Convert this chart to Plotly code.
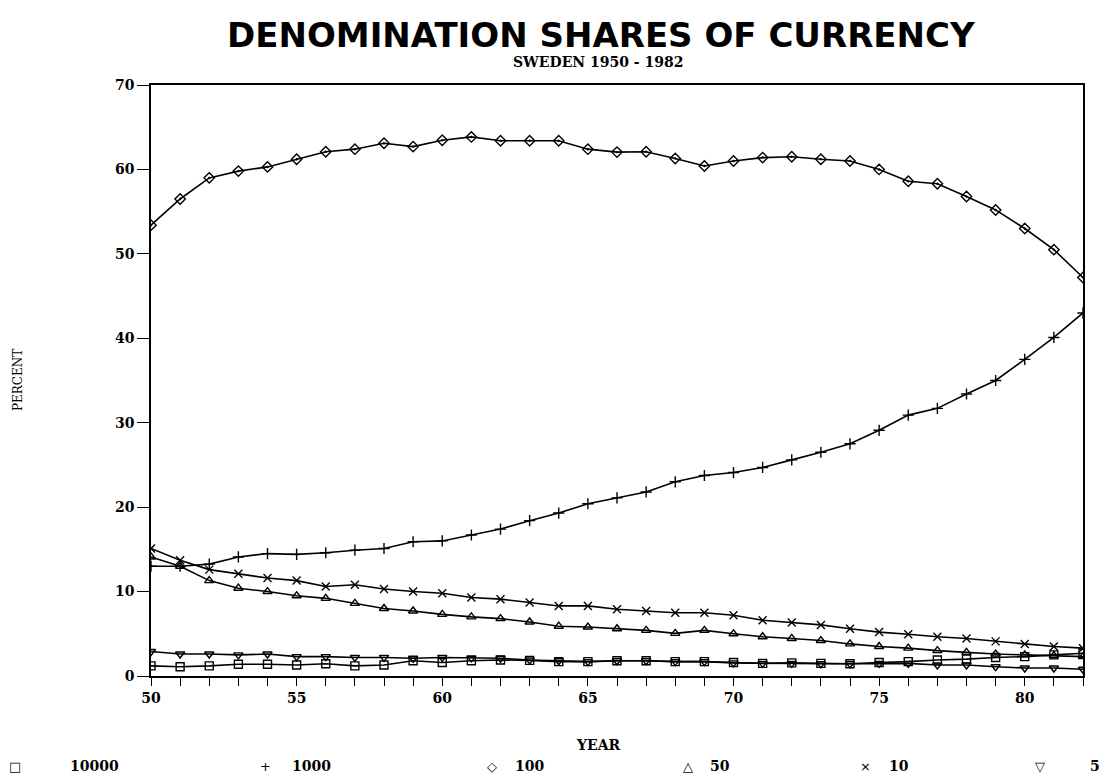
import plotly.graph_objects as go

years = list(range(1950, 1983))
year_short = [y - 1900 for y in years]

share_10000 = [1.2, 1.1, 1.2, 1.4, 1.4, 1.3, 1.45, 1.2, 1.3, 1.8, 1.6, 1.8, 1.9, 1.85, 1.7, 1.7,
               1.8, 1.8, 1.7, 1.7, 1.6, 1.5, 1.55, 1.5, 1.45, 1.6, 1.7, 1.9, 2.0, 2.2, 2.3, 2.5, 2.7]
share_1000 = [13.0, 13.0, 13.25, 14.1, 14.5, 14.4, 14.6, 14.9, 15.1, 15.9, 16.0, 16.7, 17.4, 18.4, 19.3, 20.4,
              21.1, 21.8, 23.0, 23.75, 24.1, 24.7, 25.6, 26.5, 27.5, 29.1, 30.9, 31.7, 33.4, 35.0, 37.5, 40.1, 43.0]
share_100 = [53.4, 56.5, 59.0, 59.8, 60.3, 61.2, 62.1, 62.4, 63.1, 62.7, 63.45, 63.85, 63.4, 63.4, 63.4, 62.4,
             62.05, 62.1, 61.3, 60.4, 61.0, 61.4, 61.5, 61.2, 61.0, 60.0, 58.6, 58.3, 56.8, 55.2, 53.0, 50.5, 47.2]
share_50 = [14.1, 13.0, 11.3, 10.4, 10.0, 9.5, 9.2, 8.6, 8.0, 7.7, 7.3, 7.0, 6.8, 6.4, 5.9, 5.8,
            5.6, 5.4, 5.05, 5.4, 5.0, 4.65, 4.45, 4.2, 3.8, 3.5, 3.3, 3.0, 2.8, 2.6, 2.5, 2.4, 2.3]
share_10 = [15.1, 13.7, 12.6, 12.1, 11.6, 11.3, 10.6, 10.8, 10.3, 10.0, 9.8, 9.3, 9.1, 8.7, 8.3, 8.3,
            7.9, 7.7, 7.5, 7.5, 7.2, 6.6, 6.35, 6.05, 5.6, 5.2, 4.95, 4.65, 4.45, 4.1, 3.8, 3.5, 3.3]
share_5 = [2.9, 2.6, 2.6, 2.5, 2.6, 2.3, 2.3, 2.2, 2.2, 2.1, 2.2, 2.15, 2.1, 1.9, 1.8, 1.7,
           1.8, 1.8, 1.7, 1.7, 1.55, 1.5, 1.5, 1.45, 1.45, 1.5, 1.5, 1.3, 1.3, 1.1, 0.95, 0.95, 0.8]

series_names = ["10000", "1000", "100", "50", "10", "5"]
series_values = [share_10000, share_1000, share_100, share_50, share_10, share_5]
series_symbols = ["square-open", "cross-thin-open", "diamond-open-dot", "triangle-up-open",
                  "x-thin-open", "triangle-down-open"]
legend_glyphs = ["\u25a1", "+", "\u25c7", "\u25b3", "\u00d7", "\u25bd"]

x_tick_labels = ["50", "55", "60", "65", "70", "75", "80"]

fig = go.Figure()
for name, vals, sym in zip(series_names, series_values, series_symbols):
    fig.add_trace(go.Scatter(
        x=year_short, y=vals, mode="lines+markers", name=name,
        line=dict(color="black", width=1.6),
        marker=dict(symbol=sym, size=8, color="black",
                    line=dict(color="black", width=1.4)),
        showlegend=False,
    ))

# page body has an 8px margin; positions below are in window pixels
OFF = 8
L, R, T, B = 151, 1083, 85, 676
W, H = 1108 - OFF, 777 - OFF


def px(xp):
    return (xp - L) / (R - L)


def py(yp):
    return (B - yp) / (B - T)


ann = []
ann.append(dict(text="<b>DENOMINATION SHARES OF CURRENCY</b>", x=px(601), y=py(35),
                font=dict(family="DejaVu Sans", size=34, color="black")))
ann.append(dict(text="<b>SWEDEN 1950 - 1982</b>", x=px(598), y=py(62),
                font=dict(family="DejaVu Serif", size=14, color="black")))
ann.append(dict(text="<b>YEAR</b>", x=px(598), y=py(745),
                font=dict(family="DejaVu Serif", size=14, color="black")))
ann.append(dict(text="PERCENT", x=px(18), y=py(380), textangle=-90,
                font=dict(family="DejaVu Serif", size=12, color="black")))

glyph_x = [15, 265, 492, 688, 865, 1040]
label_x = [68, 290, 513, 708, 887, 1088]
for g, gx, lx, name in zip(legend_glyphs, glyph_x, label_x, series_names):
    ann.append(dict(text=g, x=px(gx), y=py(766),
                    font=dict(family="DejaVu Sans", size=13, color="black")))
    ann.append(dict(text="<b>" + name + "</b>", x=px(lx), y=py(766), xanchor="left",
                    font=dict(family="DejaVu Serif", size=14, color="black")))

for a in ann:
    a.setdefault("xanchor", "center")
    a.update(xref="paper", yref="paper", yanchor="middle", showarrow=False)

tickfont = dict(family="DejaVu Serif", size=14, color="black", weight="bold")

fig.update_layout(
    width=W, height=H,
    margin=dict(l=L - OFF, r=1108 - R, t=T - OFF, b=777 - B, autoexpand=False),
    paper_bgcolor="white", plot_bgcolor="white",
    annotations=ann,
    xaxis=dict(
        range=[50, 82], tickmode="array", tickvals=year_short,
        ticktext=[str(y) if str(y) in x_tick_labels else "" for y in year_short],
        ticks="outside", ticklen=8, tickwidth=1.3, tickcolor="black",
        showline=True, linecolor="black", linewidth=2, mirror=True,
        showgrid=False, zeroline=False, tickfont=tickfont,
    ),
    yaxis=dict(
        range=[0, 70], dtick=10, ticks="outside", ticklen=12, tickwidth=1.3, tickcolor="black",
        showline=True, linecolor="black", linewidth=1.6, mirror=True,
        showgrid=False, zeroline=False, tickfont=tickfont,
    ),
)

fig.write_html("out.html")
